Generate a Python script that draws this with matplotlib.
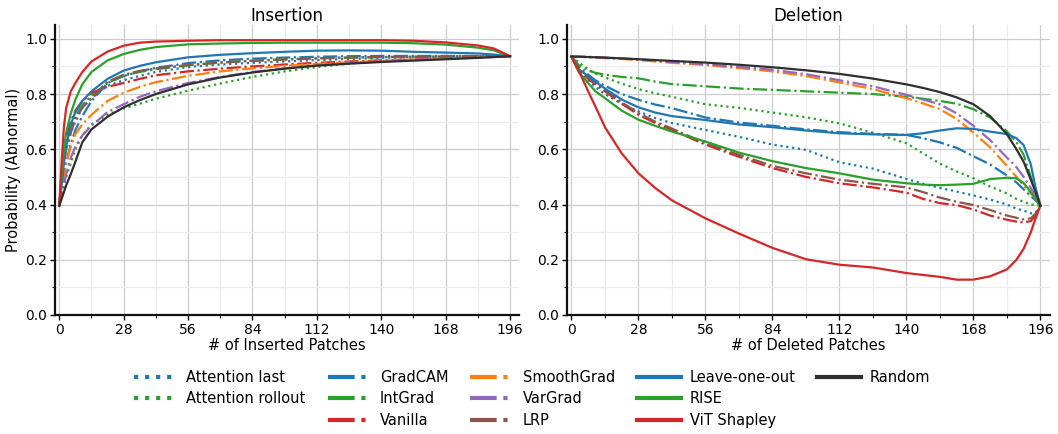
import matplotlib
matplotlib.use("Agg")
import matplotlib.pyplot as plt
from matplotlib.lines import Line2D
from matplotlib.ticker import MultipleLocator

# ---------------------------------------------------------------- data
methods = ["Attention last", "Attention rollout", "GradCAM", "IntGrad", "Vanilla",
           "SmoothGrad", "VarGrad", "LRP", "Leave-one-out", "RISE", "ViT Shapley", "Random"]

ins_x = [0, 1, 2, 3, 5, 7, 10, 14, 21, 28, 35, 42, 56, 70, 84, 98, 112, 126, 140, 154, 168, 182, 189, 196]

ins_attention_last = [0.396, 0.48, 0.55, 0.60, 0.66, 0.70, 0.75, 0.785, 0.83, 0.85, 0.866, 0.88, 0.898, 0.907,
                      0.913, 0.918, 0.923, 0.927, 0.931, 0.934, 0.935, 0.936, 0.936, 0.937]
ins_attention_rollout = [0.396, 0.43, 0.47, 0.50, 0.55, 0.60, 0.65, 0.69, 0.725, 0.748, 0.765, 0.783, 0.812, 0.838,
                         0.862, 0.882, 0.898, 0.910, 0.918, 0.924, 0.929, 0.933, 0.935, 0.937]
ins_gradcam = [0.396, 0.45, 0.50, 0.55, 0.62, 0.67, 0.72, 0.775, 0.84, 0.865, 0.882, 0.895, 0.912, 0.922,
               0.928, 0.932, 0.935, 0.937, 0.938, 0.938, 0.938, 0.938, 0.937, 0.937]
ins_intgrad = [0.396, 0.48, 0.56, 0.62, 0.68, 0.72, 0.76, 0.795, 0.84, 0.867, 0.88, 0.89, 0.904, 0.914,
               0.921, 0.926, 0.930, 0.932, 0.934, 0.935, 0.936, 0.937, 0.937, 0.937]
ins_vanilla = [0.396, 0.50, 0.58, 0.64, 0.70, 0.74, 0.775, 0.805, 0.826, 0.84, 0.855, 0.868, 0.882, 0.892,
               0.90, 0.907, 0.913, 0.918, 0.922, 0.926, 0.930, 0.933, 0.935, 0.937]
ins_smoothgrad = [0.396, 0.45, 0.50, 0.55, 0.61, 0.655, 0.69, 0.725, 0.775, 0.805, 0.826, 0.843, 0.866, 0.882,
                  0.893, 0.902, 0.909, 0.915, 0.920, 0.925, 0.929, 0.933, 0.935, 0.937]
ins_vargrad = [0.396, 0.43, 0.47, 0.51, 0.57, 0.61, 0.65, 0.685, 0.735, 0.763, 0.79, 0.81, 0.84, 0.862,
               0.88, 0.893, 0.904, 0.912, 0.918, 0.924, 0.928, 0.932, 0.934, 0.937]
ins_lrp = [0.396, 0.47, 0.54, 0.60, 0.66, 0.71, 0.75, 0.785, 0.845, 0.87, 0.884, 0.893, 0.905, 0.914,
           0.92, 0.925, 0.929, 0.932, 0.934, 0.935, 0.936, 0.937, 0.937, 0.937]
ins_leave_one_out = [0.396, 0.47, 0.55, 0.61, 0.69, 0.735, 0.775, 0.81, 0.855, 0.885, 0.902, 0.915, 0.933, 0.942,
                     0.948, 0.953, 0.957, 0.958, 0.957, 0.953, 0.950, 0.947, 0.943, 0.937]
ins_rise = [0.396, 0.50, 0.60, 0.66, 0.73, 0.78, 0.835, 0.88, 0.922, 0.945, 0.96, 0.97, 0.98, 0.983,
            0.985, 0.986, 0.986, 0.986, 0.986, 0.984, 0.979, 0.968, 0.958, 0.937]
ins_vit_shapley = [0.396, 0.55, 0.68, 0.75, 0.81, 0.84, 0.88, 0.918, 0.954, 0.975, 0.986, 0.99, 0.993, 0.995,
                   0.995, 0.995, 0.995, 0.995, 0.995, 0.993, 0.987, 0.976, 0.965, 0.937]
ins_random = [0.396, 0.42, 0.445, 0.47, 0.51, 0.555, 0.625, 0.672, 0.718, 0.752, 0.778, 0.80, 0.835, 0.86,
              0.878, 0.892, 0.903, 0.910, 0.916, 0.921, 0.926, 0.931, 0.934, 0.937]

del_x = [0, 3, 7, 10, 14, 21, 28, 35, 42, 56, 70, 84, 98, 112, 126, 140, 147, 154, 161, 168, 175, 182, 186, 189,
         192, 194, 196]

del_attention_last = [0.936, 0.88, 0.85, 0.825, 0.80, 0.765, 0.737, 0.713, 0.695, 0.67, 0.645, 0.617, 0.598, 0.553,
                      0.53, 0.493, 0.475, 0.46, 0.447, 0.433, 0.418, 0.40, 0.385, 0.378, 0.368, 0.37, 0.396]
del_attention_rollout = [0.936, 0.915, 0.89, 0.874, 0.86, 0.838, 0.818, 0.803, 0.79, 0.763, 0.75, 0.733, 0.716, 0.694,
                         0.66, 0.622, 0.585, 0.548, 0.52, 0.495, 0.465, 0.44, 0.42, 0.41, 0.40, 0.398, 0.396]
del_gradcam = [0.936, 0.90, 0.87, 0.85, 0.83, 0.80, 0.779, 0.762, 0.749, 0.715, 0.697, 0.685, 0.672, 0.662,
               0.656, 0.652, 0.64, 0.625, 0.605, 0.575, 0.545, 0.505, 0.48, 0.455, 0.43, 0.415, 0.396]
del_intgrad = [0.936, 0.905, 0.885, 0.877, 0.87, 0.862, 0.857, 0.845, 0.836, 0.828, 0.82, 0.815, 0.81, 0.805,
               0.80, 0.79, 0.783, 0.775, 0.765, 0.745, 0.715, 0.665, 0.625, 0.58, 0.50, 0.45, 0.396]
del_vanilla = [0.936, 0.89, 0.855, 0.835, 0.81, 0.765, 0.725, 0.695, 0.67, 0.617, 0.573, 0.532, 0.50, 0.477,
               0.462, 0.443, 0.42, 0.405, 0.398, 0.382, 0.36, 0.345, 0.338, 0.335, 0.34, 0.36, 0.396]
del_smoothgrad = [0.936, 0.935, 0.933, 0.932, 0.93, 0.927, 0.923, 0.918, 0.913, 0.905, 0.894, 0.882, 0.865, 0.842,
                  0.818, 0.785, 0.766, 0.745, 0.71, 0.66, 0.607, 0.54, 0.50, 0.468, 0.44, 0.42, 0.396]
del_vargrad = [0.936, 0.936, 0.935, 0.934, 0.932, 0.929, 0.926, 0.921, 0.916, 0.908, 0.898, 0.888, 0.872, 0.85,
               0.828, 0.797, 0.78, 0.763, 0.73, 0.685, 0.633, 0.57, 0.535, 0.50, 0.46, 0.43, 0.396]
del_lrp = [0.936, 0.892, 0.86, 0.84, 0.815, 0.77, 0.731, 0.70, 0.675, 0.622, 0.58, 0.54, 0.513, 0.49,
           0.475, 0.462, 0.445, 0.425, 0.41, 0.398, 0.38, 0.36, 0.352, 0.346, 0.35, 0.368, 0.396]
del_leave_one_out = [0.936, 0.89, 0.865, 0.845, 0.82, 0.78, 0.752, 0.733, 0.72, 0.706, 0.69, 0.68, 0.668, 0.658,
                     0.654, 0.652, 0.658, 0.668, 0.676, 0.674, 0.664, 0.655, 0.64, 0.615, 0.545, 0.46, 0.396]
del_rise = [0.936, 0.88, 0.84, 0.81, 0.785, 0.74, 0.707, 0.685, 0.664, 0.628, 0.588, 0.557, 0.532, 0.513,
            0.49, 0.477, 0.472, 0.47, 0.472, 0.475, 0.492, 0.497, 0.495, 0.478, 0.445, 0.42, 0.396]
del_vit_shapley = [0.936, 0.885, 0.81, 0.755, 0.68, 0.585, 0.513, 0.46, 0.415, 0.35, 0.295, 0.243, 0.202, 0.182,
                   0.172, 0.152, 0.145, 0.138, 0.128, 0.128, 0.14, 0.165, 0.20, 0.24, 0.30, 0.35, 0.396]
del_random = [0.936, 0.935, 0.934, 0.933, 0.932, 0.929, 0.926, 0.923, 0.92, 0.914, 0.906, 0.897, 0.886, 0.873,
              0.856, 0.835, 0.822, 0.807, 0.788, 0.763, 0.72, 0.655, 0.60, 0.555, 0.49, 0.445, 0.396]

insertion = [ins_attention_last, ins_attention_rollout, ins_gradcam, ins_intgrad, ins_vanilla,
             ins_smoothgrad, ins_vargrad, ins_lrp, ins_leave_one_out, ins_rise, ins_vit_shapley, ins_random]
deletion = [del_attention_last, del_attention_rollout, del_gradcam, del_intgrad, del_vanilla,
            del_smoothgrad, del_vargrad, del_lrp, del_leave_one_out, del_rise, del_vit_shapley, del_random]

# ---------------------------------------------------------------- styles
colors = ["tab:blue", "tab:green", "tab:blue", "tab:green", "tab:red",
          "tab:orange", "tab:purple", "tab:brown", "tab:blue", "tab:green", "tab:red", "#2f2f2f"]
styles = [":", ":", "-.", "-.", "-.", "-.", "-.", "-.", "-", "-", "-", "-"]

plt.rcParams["font.family"] = ["DejaVu Sans"]

fig = plt.figure(figsize=(10.58, 4.34), dpi=100)
ax_ins = fig.add_axes([0.0517, 0.2742, 0.4391, 0.6682])
ax_del = fig.add_axes([0.5356, 0.2742, 0.4568, 0.6682])


def style_axes(ax):
    ax.set_xlim(-2, 200)
    ax.set_ylim(0, 1.05)
    ax.xaxis.set_major_locator(MultipleLocator(28))
    ax.xaxis.set_minor_locator(MultipleLocator(14))
    ax.yaxis.set_major_locator(MultipleLocator(0.2))
    ax.yaxis.set_minor_locator(MultipleLocator(0.1))
    ax.grid(which="major", color="#cccccc", linewidth=0.9)
    ax.grid(which="minor", color="#ececec", linewidth=0.9)
    ax.set_axisbelow(True)
    for side in ("top", "right"):
        ax.spines[side].set_visible(False)
    for side in ("left", "bottom"):
        ax.spines[side].set_linewidth(1.6)
        ax.spines[side].set_color("#111111")
    ax.tick_params(which="major", length=3.5, width=1.0, pad=2, labelsize=10)
    ax.tick_params(which="minor", length=2.2, width=0.8)


handles = []
for name, ys, c, ls in zip(methods, insertion, colors, styles):
    line, = ax_ins.plot(ins_x, ys, color=c, linestyle=ls, linewidth=1.6, label=name)
    handles.append(line)
for ys, c, ls in zip(deletion, colors, styles):
    ax_del.plot(del_x, ys, color=c, linestyle=ls, linewidth=1.6)

for ax in (ax_ins, ax_del):
    style_axes(ax)

ax_ins.set_title("Insertion", fontsize=12, pad=1)
ax_del.set_title("Deletion", fontsize=12, pad=1)
ax_ins.set_xlabel("# of Inserted Patches", fontsize=10.5, labelpad=1)
ax_del.set_xlabel("# of Deleted Patches", fontsize=10.5, labelpad=1)
ax_ins.set_ylabel("Probability (Abnormal)", fontsize=10.5, labelpad=3)

# legend laid out in five columns of three rows
blank = Line2D([], [], linestyle="none")
legend_handles = []
legend_labels = []
for h in handles:
    legend_handles.append(Line2D([], [], color=h.get_color(), linestyle=h.get_linestyle(), linewidth=3))
    legend_labels.append(h.get_label())
order = [0, 1, None, 2, 3, 4, 5, 6, 7, 8, 9, 10, 11, None, None]
lh = [blank if i is None else legend_handles[i] for i in order]
ll = ["" if i is None else legend_labels[i] for i in order]
fig.legend(lh, ll, ncol=5, loc="center", bbox_to_anchor=(0.503, 0.081), frameon=False,
           fontsize=10.5, handlelength=3.0, columnspacing=1.5, labelspacing=0.45, handletextpad=0.6)

fig.savefig("out.png", dpi=100)
